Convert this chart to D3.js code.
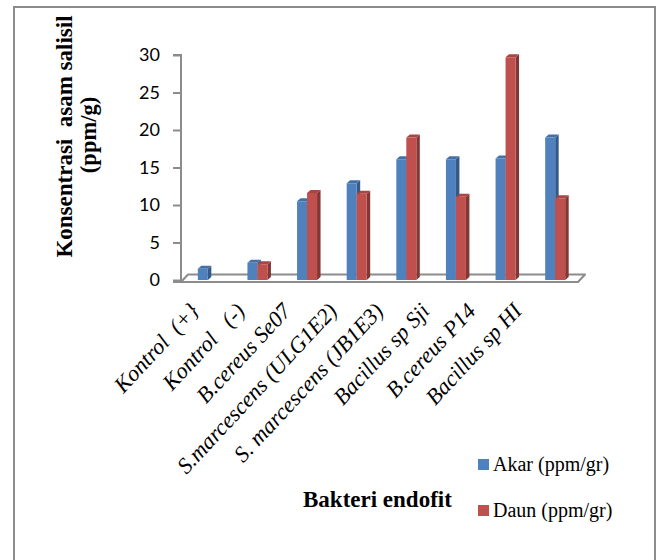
<!DOCTYPE html>
<html>
<head>
<meta charset="utf-8">
<script src="https://cdn.jsdelivr.net/npm/d3@7"></script>
<style>
  html, body { margin: 0; padding: 0; background: #ffffff; }
  svg { display: block; }
</style>
</head>
<body>
<script>
// Salicylic acid concentration by endophytic bacteria (roots vs leaves)
const categories = [
  "Kontrol  (+}",
  "Kontrol   (-)",
  "B.cereus Se07",
  "S.marcescens (ULG1E2)",
  "S. marcescens (JB1E3)",
  "Bacillus sp Sji",
  "B.cereus P14",
  "Bacillus sp HI"
];
const seriesNames = ["Akar (ppm/gr)", "Daun (ppm/gr)"];
const akar = [1.5, 2.3, 10.5, 12.9, 16.1, 16.1, 16.2, 19.0];
const daun = [0, 2.1, 11.6, 11.5, 19.0, 11.1, 29.7, 10.9];
const yTicks = [0, 5, 10, 15, 20, 25, 30];

const W = 658, H = 560;
const svg = d3.select("body").append("svg").attr("width", W).attr("height", H);

const colors = {
  "Akar (ppm/gr)": { front: "#4F81BD", top: "#4470A6", side: "#345A88" },
  "Daun (ppm/gr)": { front: "#C0504D", top: "#A94543", side: "#833735" }
};

// outer frame
svg.append("rect")
  .attr("x", 14).attr("y", 7).attr("width", 641).attr("height", 600)
  .attr("fill", "none").attr("stroke", "#8c8c8c").attr("stroke-width", 2);

// scales
const x = d3.scaleBand().domain(categories).range([183, 580])
  .paddingInner(0.597).paddingOuter(0.2985);
const xSub = d3.scaleBand().domain(seriesNames).range([0, x.bandwidth()]);
const y = d3.scaleLinear().domain([0, 30]).range([280, 55]);

// depth of the 3D effect
const dx = 3.5, dy = -3;
const floorDx = 7, floorDy = -7.5;

// floor
const x0 = 181, x1 = 578, yf = 282;
svg.append("path")
  .attr("d", `M${x0},${yf}L${x1},${yf}L${x1 + floorDx},${yf + floorDy}L${x0 + floorDx},${yf + floorDy}Z`)
  .attr("fill", "#ffffff").attr("stroke", "#8c8c8c").attr("stroke-width", 2)
  .attr("stroke-linejoin", "round");

// value axis
const yAxis = d3.axisLeft(y).tickValues(yTicks).tickSize(8).tickPadding(12);
const gy = svg.append("g").attr("transform", `translate(${x0},0)`).call(yAxis);
gy.select(".domain").attr("stroke", "#8c8c8c").attr("stroke-width", 2)
  .attr("d", `M-8,${y(30)}H0V${yf}H-8`);
gy.selectAll(".tick line").attr("stroke", "#8c8c8c").attr("stroke-width", 2);
gy.selectAll(".tick text")
  .attr("font-family", "Lato, 'Open Sans', sans-serif")
  .attr("font-size", 18).attr("fill", "#000").attr("x", -21);

// bars
const rows = categories.map((c, i) => ({ cat: c, values: [
  { key: seriesNames[0], v: akar[i] },
  { key: seriesNames[1], v: daun[i] }
]}));

const groups = svg.append("g").selectAll("g").data(rows).join("g")
  .attr("transform", d => `translate(${x(d.cat)},0)`);

const bars = groups.selectAll("g").data(d => d.values.filter(e => e.v > 0)).join("g");

bars.append("path") // side face
  .attr("d", d => {
    const bx = xSub(d.key) + xSub.bandwidth(), t = y(d.v), b = y(0);
    return `M${bx},${t}L${bx + dx},${t + dy}L${bx + dx},${b + dy}L${bx},${b}Z`;
  })
  .attr("fill", d => colors[d.key].side);
bars.append("path") // top face
  .attr("d", d => {
    const bx = xSub(d.key), w = xSub.bandwidth(), t = y(d.v);
    return `M${bx},${t}L${bx + dx},${t + dy}L${bx + w + dx},${t + dy}L${bx + w},${t}Z`;
  })
  .attr("fill", d => colors[d.key].top);
bars.append("rect") // front face
  .attr("x", d => xSub(d.key))
  .attr("y", d => y(d.v))
  .attr("width", xSub.bandwidth())
  .attr("height", d => y(0) - y(d.v))
  .attr("fill", d => colors[d.key].front);

// category labels (slanted)
const serif = "'Liberation Serif', 'Times New Roman', serif";
const xl = d3.scalePoint().domain(categories).range([200, 523]);
svg.append("g").selectAll("text").data(categories).join("text")
  .attr("transform", d => `translate(${xl(d)},312) rotate(-47)`)
  .attr("text-anchor", "end")
  .attr("font-family", serif)
  .attr("font-style", "italic")
  .attr("font-size", 22.5)
  .attr("fill", "#000")
  .style("white-space", "pre")
  .text(d => d);

// axis titles
svg.append("text")
  .attr("transform", "translate(72,136.5) rotate(-90)")
  .attr("text-anchor", "middle")
  .attr("font-family", serif).attr("font-weight", "bold").attr("font-size", 23)
  .style("white-space", "pre")
  .text("Konsentrasi  asam salisil");
svg.append("text")
  .attr("transform", "translate(96,135) rotate(-90)")
  .attr("text-anchor", "middle")
  .attr("font-family", serif).attr("font-weight", "bold").attr("font-size", 22.5)
  .text("(ppm/g)");
svg.append("text")
  .attr("x", 303).attr("y", 506.5)
  .attr("font-family", serif).attr("font-weight", "bold").attr("font-size", 23)
  .text("Bakteri endofit");

// legend
const legend = svg.append("g").selectAll("g").data(seriesNames).join("g")
  .attr("transform", (d, i) => `translate(478,${459 + i * 46})`);
legend.append("rect")
  .attr("width", 11).attr("height", 11)
  .attr("fill", d => colors[d].front);
legend.append("text")
  .attr("x", 15).attr("y", 12)
  .attr("font-family", serif).attr("font-size", 20)
  .text(d => d);
</script>
</body>
</html>
